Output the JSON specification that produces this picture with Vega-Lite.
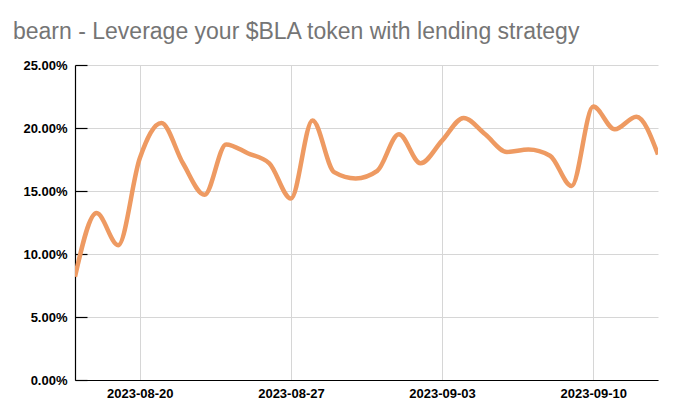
{
  "$schema": "https://vega.github.io/schema/vega-lite/v6.json",
  "autosize": "none",
  "width": 583,
  "height": 315,
  "padding": {"left": 75, "top": 65, "right": 22, "bottom": 40},
  "background": "white",
  "title": {
    "text": "bearn - Leverage your $BLA token with lending strategy",
    "anchor": "start",
    "frame": "group",
    "dx": -62,
    "offset": 15,
    "font": "Liberation Sans",
    "fontSize": 23,
    "fontWeight": "normal",
    "color": "#757575"
  },
  "config": {
    "view": {"stroke": null},
    "axis": {
      "labelFont": "Liberation Sans",
      "labelFontSize": 13,
      "labelFontWeight": "bold",
      "labelColor": "#000000",
      "gridColor": "#d6d6d6",
      "gridWidth": 1,
      "domainColor": "#000000",
      "domainWidth": 1.2,
      "title": null
    }
  },
  "data": {
    "values": [
      {"date": "2023-08-17", "apy": 0.082},
      {"date": "2023-08-18", "apy": 0.1325},
      {"date": "2023-08-19", "apy": 0.107},
      {"date": "2023-08-20", "apy": 0.176},
      {"date": "2023-08-21", "apy": 0.204},
      {"date": "2023-08-22", "apy": 0.172},
      {"date": "2023-08-23", "apy": 0.147},
      {"date": "2023-08-24", "apy": 0.187},
      {"date": "2023-08-25", "apy": 0.180},
      {"date": "2023-08-26", "apy": 0.172},
      {"date": "2023-08-27", "apy": 0.144},
      {"date": "2023-08-28", "apy": 0.206},
      {"date": "2023-08-29", "apy": 0.165},
      {"date": "2023-08-30", "apy": 0.160},
      {"date": "2023-08-31", "apy": 0.166},
      {"date": "2023-09-01", "apy": 0.195},
      {"date": "2023-09-02", "apy": 0.172},
      {"date": "2023-09-03", "apy": 0.190},
      {"date": "2023-09-04", "apy": 0.208},
      {"date": "2023-09-05", "apy": 0.195},
      {"date": "2023-09-06", "apy": 0.181},
      {"date": "2023-09-07", "apy": 0.183},
      {"date": "2023-09-08", "apy": 0.178},
      {"date": "2023-09-09", "apy": 0.154},
      {"date": "2023-09-10", "apy": 0.217},
      {"date": "2023-09-11", "apy": 0.199},
      {"date": "2023-09-12", "apy": 0.209},
      {"date": "2023-09-13", "apy": 0.179}
    ]
  },
  "mark": {
    "type": "line",
    "interpolate": "monotone",
    "color": "#EE9A62",
    "strokeWidth": 4.5,
    "clip": true
  },
  "encoding": {
    "x": {
      "field": "date",
      "type": "temporal",
      "scale": {"type": "utc", "domain": ["2023-08-17", "2023-09-13"], "nice": false},
      "axis": {
        "values": ["2023-08-20", "2023-08-27", "2023-09-03", "2023-09-10"],
        "labelExpr": "utcFormat(datum.value, '%Y-%m-%d')",
        "ticks": false,
        "labelPadding": 7,
        "labelAngle": 0
      }
    },
    "y": {
      "field": "apy",
      "type": "quantitative",
      "scale": {"domain": [0, 0.25], "nice": false},
      "axis": {
        "values": [0, 0.05, 0.1, 0.15, 0.2, 0.25],
        "format": ".2%",
        "tickColor": "#000000",
        "tickSize": -12,
        "tickWidth": 1.2,
        "labelPadding": 20
      }
    }
  }
}
